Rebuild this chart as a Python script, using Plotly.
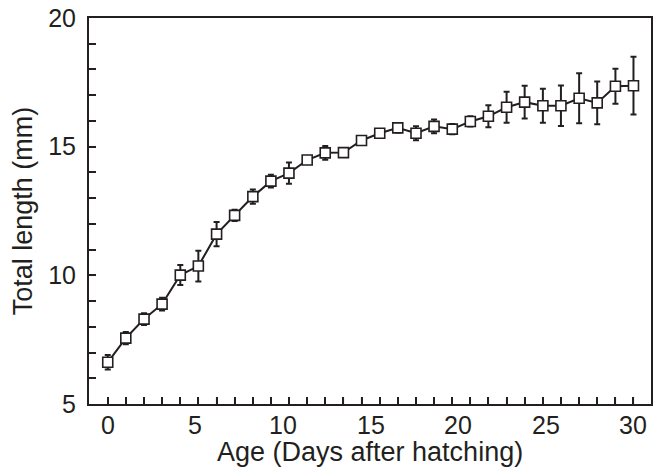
import plotly.graph_objects as go

# Data
ages = [0, 1.03, 2.07, 3.10, 4.14, 5.17, 6.21, 7.24, 8.28, 9.31,
        10.34, 11.38, 12.41, 13.45, 14.48, 15.52, 16.55, 17.59, 18.62, 19.66,
        20.69, 21.72, 22.76, 23.79, 24.83, 25.86, 26.90, 27.93, 28.97, 30.0]
total_length = [6.62, 7.56, 8.30, 8.88, 10.01, 10.36, 11.60, 12.33, 13.06, 13.66,
                13.97, 14.48, 14.76, 14.77, 15.24, 15.52, 15.73, 15.52, 15.79, 15.68,
                15.98, 16.18, 16.53, 16.73, 16.59, 16.59, 16.88, 16.70, 17.35, 17.37]
sd = [0.28, 0.24, 0.23, 0.25, 0.39, 0.60, 0.47, 0.22, 0.28, 0.25,
      0.41, 0.10, 0.27, 0.17, 0.05, 0.05, 0.18, 0.27, 0.27, 0.20,
      0.20, 0.43, 0.60, 0.64, 0.66, 0.79, 0.97, 0.83, 0.68, 1.12]
x_labels = [0, 5, 10, 15, 20, 25, 30]
y_labels = [5, 10, 15, 20]
x_title = "Age (Days after hatching)"
y_title = "Total length (mm)"

INK = "#231f20"
FONT = "Liberation Sans, Arial, sans-serif"
TICK_SIZE = 25
TITLE_SIZE = 27
TICK_LEN = 7

fig = go.Figure()
fig.add_trace(go.Scatter(
    x=ages, y=total_length, mode="lines+markers",
    line=dict(color=INK, width=2),
    marker=dict(symbol="square", size=10, color="white",
                line=dict(color=INK, width=1.6)),
    error_y=dict(type="data", array=sd, visible=True, color=INK,
                 thickness=2, width=3),
    showlegend=False, cliponaxis=False,
))

xr = [-1.07, 31.0]
yr = [5, 20]
fig.update_layout(
    template="simple_white",
    width=660, height=468,
    margin=dict(l=89, r=9, t=18, b=64, autoexpand=False),
    paper_bgcolor="white", plot_bgcolor="white",
    font=dict(family=FONT, color=INK, size=TICK_SIZE),
    xaxis=dict(
        range=xr, showgrid=False, zeroline=False, automargin=False,
        showline=True, linecolor=INK, linewidth=2, mirror=True,
        tickmode="array", tickvals=ages, ticktext=[""] * len(ages),
        ticks="inside", ticklen=TICK_LEN, tickwidth=1.5, tickcolor=INK,
        showticklabels=True,
    ),
    yaxis=dict(
        range=yr, showgrid=False, zeroline=False, automargin=False,
        showline=True, linecolor=INK, linewidth=2, mirror=True,
        tickmode="linear", tick0=5, dtick=5, ticks="inside", ticklen=TICK_LEN,
        tickwidth=1.5, tickcolor=INK, ticklabelstandoff=6,
        minor=dict(dtick=1, tick0=5, ticks="inside", ticklen=TICK_LEN,
                   tickwidth=1.5, tickcolor=INK, showgrid=False),
        tickfont=dict(size=TICK_SIZE, family=FONT, color=INK),
        title=dict(text=y_title, standoff=8,
                   font=dict(size=TITLE_SIZE, family=FONT, color=INK)),
    ),
)

# inward tick marks at every sample along the bottom axis (drawn as pixel-sized shapes)
for a in ages:
    fig.add_shape(type="line", xref="x", yref="y", x0=a, x1=a,
                  ysizemode="pixel", yanchor=yr[0], y0=0, y1=TICK_LEN,
                  line=dict(color=INK, width=1.5), layer="above")
# inward tick marks at the labelled y values
for v in y_labels[1:-1]:
    fig.add_shape(type="line", xref="x", yref="y", y0=v, y1=v,
                  xsizemode="pixel", xanchor=xr[0], x0=0, x1=TICK_LEN,
                  line=dict(color=INK, width=1.5), layer="above")

# x tick labels (0-30 scale) and x title
for v in x_labels:
    fig.add_annotation(x=v, xref="x", y=0, yref="paper", yanchor="top",
                       yshift=-5, text=str(v), showarrow=False,
                       font=dict(size=TICK_SIZE, family=FONT, color=INK))
fig.add_annotation(x=0.5, xref="paper", y=0, yref="paper", yanchor="middle",
                   yshift=-48, text=x_title, showarrow=False,
                   font=dict(size=TITLE_SIZE, family=FONT, color=INK))

fig.write_html("out.html", config={"displayModeBar": False},
               post_script="document.body.style.margin='0';"
                           "document.body.style.padding='0';")
